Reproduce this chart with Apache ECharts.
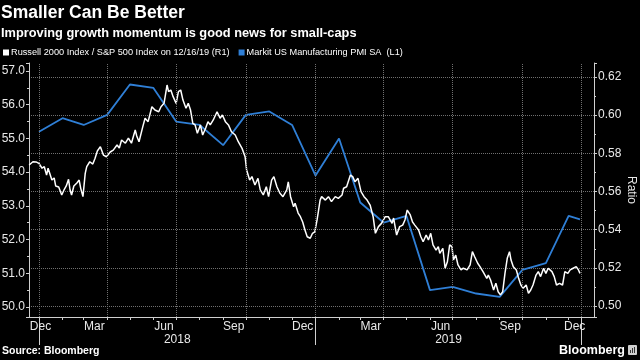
<!DOCTYPE html>
<html>
<head>
<meta charset="utf-8">
<script src="https://cdn.jsdelivr.net/npm/echarts@6/dist/echarts.min.js"></script>
<style>
html,body{margin:0;padding:0;background:#000;}
#chart{width:640px;height:360px;}
</style>
</head>
<body>
<div id="chart"></div>
<script>
// ---------- DATA ----------
const titleText = 'Smaller Can Be Better';
const subtitleText = 'Improving growth momentum is good news for small-caps';
const ratioName = 'Russell 2000 Index / S&P 500 Index on 12/16/19 (R1)';
const pmiName = 'Markit US Manufacturing PMI SA  (L1)';

// Markit US Manufacturing PMI (left axis), plotted at release points
const pmiDates = ['2018-01-01','2018-02-01','2018-03-01','2018-04-01','2018-05-01','2018-06-01',
  '2018-07-01','2018-08-01','2018-09-01','2018-10-01','2018-11-01','2018-12-01',
  '2019-01-01','2019-02-01','2019-03-01','2019-04-01','2019-05-01','2019-06-01',
  '2019-07-01','2019-08-01','2019-09-01','2019-10-01','2019-11-01','2019-12-01','2019-12-16'];
const pmiValues = [55.2, 55.6, 55.4, 55.7, 56.6, 56.5, 55.5, 55.4, 54.8, 55.7, 55.8, 55.4,
  53.9, 55.0, 53.1, 52.5, 52.7, 50.5, 50.6, 50.4, 50.3, 51.1, 51.3, 52.7, 52.6];

// Russell 2000 / S&P 500 ratio (right axis); dates as days after 2018-01-01
const ratioDays = [
  -13, -8, -4, 0, 4, 7, 10, 12, 17, 20, 22, 26, 30, 33, 36, 39, 41, 43, 46, 50,
  53, 55, 58, 61, 63, 65, 67, 71, 74, 77, 81, 85, 89, 94, 98, 103, 106, 109, 114, 118,
  122, 127, 129, 132, 137, 140, 144, 149, 153, 158, 161, 165, 169, 171, 174, 177, 181, 184, 187, 190,
  194, 197, 200, 203, 206, 209, 213, 216, 220, 223, 226, 230, 235, 239, 242, 246, 250, 254, 259, 263,
  268, 272, 274, 278, 281, 285, 289, 292, 296, 300, 303, 307, 310, 314, 318, 322, 327, 329, 332, 336,
  338, 342, 345, 348, 351, 354, 358, 361, 364, 367, 369, 371, 373, 378, 382, 386, 391, 395, 400, 402,
  406, 411, 414, 417, 421, 425, 429, 433, 437, 441, 444, 448, 452, 457, 461, 466, 468, 472, 476, 480,
  483, 486, 490, 493, 496, 501, 504, 507, 511, 514, 517, 520, 524, 527, 529, 533, 536, 539, 542, 545,
  547, 550, 553, 557, 560, 565, 569, 572, 575, 579, 582, 586, 591, 593, 596, 600, 603, 606, 609, 612,
  615, 618, 621, 623, 626, 630, 633, 636, 639, 643, 646, 649, 652, 656, 659, 662, 666, 669, 672, 677,
  680, 683, 687, 691, 694, 698, 701, 705, 709, 712, 714];
const ratioValues = [
  0.5739, 0.5756, 0.5755, 0.5747, 0.5722, 0.5730, 0.5686, 0.5722, 0.5660, 0.5671, 0.5629, 0.5624, 0.5582, 0.5608, 0.5629, 0.5664, 0.5608, 0.5582, 0.5629, 0.5645,
  0.5660, 0.5618, 0.5573, 0.5695, 0.5730, 0.5723, 0.5756, 0.5744, 0.5774, 0.5812, 0.5835, 0.5791, 0.5782, 0.5807, 0.5817, 0.5844, 0.5828, 0.5870, 0.5853, 0.5880,
  0.5853, 0.5922, 0.5891, 0.5861, 0.5940, 0.5984, 0.5966, 0.6044, 0.6027, 0.6018, 0.6044, 0.6062, 0.6158, 0.6123, 0.6132, 0.6097, 0.6062, 0.6123, 0.6132, 0.6079,
  0.6036, 0.6062, 0.6027, 0.5957, 0.5949, 0.5905, 0.5949, 0.5896, 0.5933, 0.5966, 0.5949, 0.5975, 0.6018, 0.5984, 0.6001, 0.5966, 0.5949, 0.5913, 0.5896, 0.5861,
  0.5826, 0.5782, 0.5713, 0.5660, 0.5678, 0.5634, 0.5669, 0.5608, 0.5582, 0.5625, 0.5573, 0.5660, 0.5678, 0.5625, 0.5591, 0.5573, 0.5608, 0.5651, 0.5573, 0.5520,
  0.5538, 0.5487, 0.5468, 0.5440, 0.5398, 0.5363, 0.5355, 0.5381, 0.5389, 0.5451, 0.5503, 0.5555, 0.5573, 0.5555, 0.5573, 0.5547, 0.5573, 0.5564, 0.5582, 0.5617,
  0.5625, 0.5686, 0.5678, 0.5651, 0.5669, 0.5599, 0.5573, 0.5555, 0.5529, 0.5468, 0.5381, 0.5416, 0.5433, 0.5468, 0.5468, 0.5433, 0.5461, 0.5372, 0.5416, 0.5424,
  0.5451, 0.5503, 0.5477, 0.5440, 0.5424, 0.5398, 0.5363, 0.5337, 0.5372, 0.5346, 0.5381, 0.5320, 0.5293, 0.5311, 0.5276, 0.5302, 0.5198, 0.5232, 0.5320, 0.5311,
  0.5241, 0.5267, 0.5215, 0.5189, 0.5198, 0.5189, 0.5215, 0.5285, 0.5258, 0.5224, 0.5206, 0.5180, 0.5145, 0.5162, 0.5136, 0.5084, 0.5119, 0.5075, 0.5058, 0.5075,
  0.5171, 0.5250, 0.5285, 0.5241, 0.5206, 0.5189, 0.5145, 0.5110, 0.5093, 0.5110, 0.5067, 0.5084, 0.5110, 0.5162, 0.5180, 0.5154, 0.5198, 0.5171, 0.5198, 0.5180,
  0.5154, 0.5110, 0.5119, 0.5110, 0.5180, 0.5171, 0.5189, 0.5198, 0.5206, 0.5189, 0.5171];

// Axis tick labels
const monthLabels = ['Dec','Mar','Jun','Sep','Dec','Mar','Jun','Sep','Dec'];
const monthLabelDates = ['2018-01-03','2018-03-15','2018-06-15','2018-09-15','2018-12-15',
  '2019-03-15','2019-06-15','2019-09-15','2019-12-09'];
const yearLabels = ['2018','2019'];
const yearBounds = ['2018-01-01','2019-01-01','2019-12-18'];
const gridDates = ['2018-01-01','2018-04-01','2018-07-01','2018-10-01','2019-01-01',
  '2019-04-01','2019-07-01','2019-10-01','2019-12-18'];
const rightAxisName = 'Ratio';
const sourceText = 'Source: Bloomberg';
const brandText = 'Bloomberg';

// ---------- BUILD ----------
const DAY = 86400000;
function ts(iso){ const p = iso.split('-').map(Number); return Date.UTC(p[0], p[1]-1, p[2]); }
const BASE = ts('2018-01-01');

const pmiData = pmiDates.map((d,i)=>[ts(d), pmiValues[i]]);
const ratioData = ratioDays.map((d,i)=>[BASE + d*DAY, ratioValues[i]]);

const monthTicks = [];
for (let y = 2018; y <= 2019; y++) for (let m = 0; m < 12; m++) monthTicks.push(Date.UTC(y, m, 1));
monthTicks.push(ts('2019-12-18'));

const monthLabelTs = monthLabelDates.map(ts);
const yearBoundTs = yearBounds.map(ts);
const yearMidTs = [ (yearBoundTs[0]+yearBoundTs[1])/2, (yearBoundTs[1]+yearBoundTs[2])/2 ];

const xMin = BASE - 13.2*DAY;
const xMax = BASE + 732.5*DAY;

function lookup(vals, labels){
  return function(v){
    for (let i=0;i<vals.length;i++) if (Math.abs(v - vals[i]) < DAY*2) return labels[i];
    return '';
  };
}

const AX = '#d0d0d0';
const LBL = '#e8e8e8';
const FONT = 'Liberation Sans';

const chart = echarts.init(document.getElementById('chart'), null, {renderer:'canvas'});
chart.setOption({
  backgroundColor: '#000',
  animation: false,
  title: [
    {text: titleText, left: 1, top: 4, padding: 0,
     textStyle:{color:'#fff', fontSize:17.5, fontWeight:'bold', fontFamily:FONT}},
    {text: subtitleText, left: 1, top: 27, padding: 0,
     textStyle:{color:'#fff', fontSize:12.8, fontWeight:'bold', fontFamily:FONT}}
  ],
  legend: {
    left: 3, top: 48, padding: 0, itemWidth: 6, itemHeight: 6, itemGap: 9, icon: 'rect',
    textStyle: {color:'#fff', fontSize:9.2, fontFamily:FONT, padding:[0,0,0,-3]},
    data: [ratioName, pmiName], selectedMode: false
  },
  grid: {left: 29, right: 46, top: 63, bottom: 43, outerBoundsMode: 'none', containLabel: false},
  xAxis: [
    {type:'value', min:xMin, max:xMax, position:'bottom',
     axisLine:{show:true, lineStyle:{color:AX, width:1}},
     axisTick:{show:true, length:3, customValues: monthTicks, lineStyle:{color:AX}},
     axisLabel:{show:true, customValues: monthLabelTs, formatter: lookup(monthLabelTs, monthLabels),
       color:LBL, fontSize:12, fontFamily:FONT, margin:4, hideOverlap:false},
     splitLine:{show:false}},
    {type:'value', min:xMin, max:xMax, position:'bottom',
     axisLine:{show:false},
     axisTick:{show:true, length:28, customValues: yearBoundTs, lineStyle:{color:AX}},
     axisLabel:{show:true, customValues: yearMidTs, formatter: lookup(yearMidTs, yearLabels),
       color:LBL, fontSize:12, fontFamily:FONT, margin:17, hideOverlap:false},
     splitLine:{show:false}}
  ],
  yAxis: [
    {type:'value', position:'left', min:49.7033, max:57.238, splitNumber:7,
     axisLine:{show:true, lineStyle:{color:AX}},
     axisTick:{show:true, length:3, lineStyle:{color:AX}},
     minorTick:{show:true, splitNumber:2, length:2, lineStyle:{color:AX}},
     axisLabel:{color:LBL, fontSize:12, fontFamily:FONT, margin:4, showMinLabel:false, showMaxLabel:false,
       formatter: v => v.toFixed(1)},
     splitLine:{show:false}},
    {type:'value', position:'right', min:0.49424, max:0.62734, splitNumber:7,
     name: rightAxisName, nameLocation:'middle', nameRotate:-90, nameGap:31, nameMoveOverlap:false,
     nameTextStyle:{color:LBL, fontSize:12, fontFamily:FONT},
     axisLine:{show:true, lineStyle:{color:AX}},
     axisTick:{show:true, length:3, lineStyle:{color:AX}},
     minorTick:{show:true, splitNumber:2, length:2, lineStyle:{color:AX}},
     axisLabel:{color:LBL, fontSize:12, fontFamily:FONT, margin:4, showMinLabel:false, showMaxLabel:false,
       formatter: v => v.toFixed(2)},
     splitLine:{show:true, showMinLine:false, showMaxLine:false, lineStyle:{color:'#707070', type:'dotted', width:1}}}
  ],
  series: [
    {name: pmiName, type:'line', xAxisIndex:0, yAxisIndex:0, data: pmiData,
     showSymbol:false, symbol:'none', color:'#2f7fd6',
     itemStyle:{color:'#2f7fd6'}, lineStyle:{color:'#2f7fd6', width:1.8}, z:2,
     markLine:{silent:true, symbol:['none','none'], label:{show:false},
       lineStyle:{color:'#707070', type:'dotted', width:1},
       data: gridDates.map(d => ({xAxis: ts(d)}))}},
    {name: ratioName, type:'line', xAxisIndex:0, yAxisIndex:1, data: ratioData,
     showSymbol:false, symbol:'none', color:'#ffffff',
     itemStyle:{color:'#ffffff'}, lineStyle:{color:'#ffffff', width:1.5}, z:3}
  ],
  graphic: [
    {type:'text', left: 2, top: 346, style:{text: sourceText, fill:'#fff', font:'bold 10.5px "Liberation Sans"'}},
    {type:'text', left: 559, top: 344, style:{text: brandText, fill:'#fff', font:'bold 12.5px "Liberation Sans"'}},
    {type:'group', left: 628, top: 345, children:[
      {type:'rect', shape:{x:0,y:0,width:9,height:10,r:1}, style:{fill:'#cfcfcf'}},
      {type:'rect', shape:{x:2,y:5,width:1,height:3}, style:{fill:'#333'}},
      {type:'rect', shape:{x:4,y:3,width:1,height:5}, style:{fill:'#333'}},
      {type:'rect', shape:{x:6,y:2,width:1,height:6}, style:{fill:'#333'}}
    ]}
  ]
});
</script>
</body>
</html>
